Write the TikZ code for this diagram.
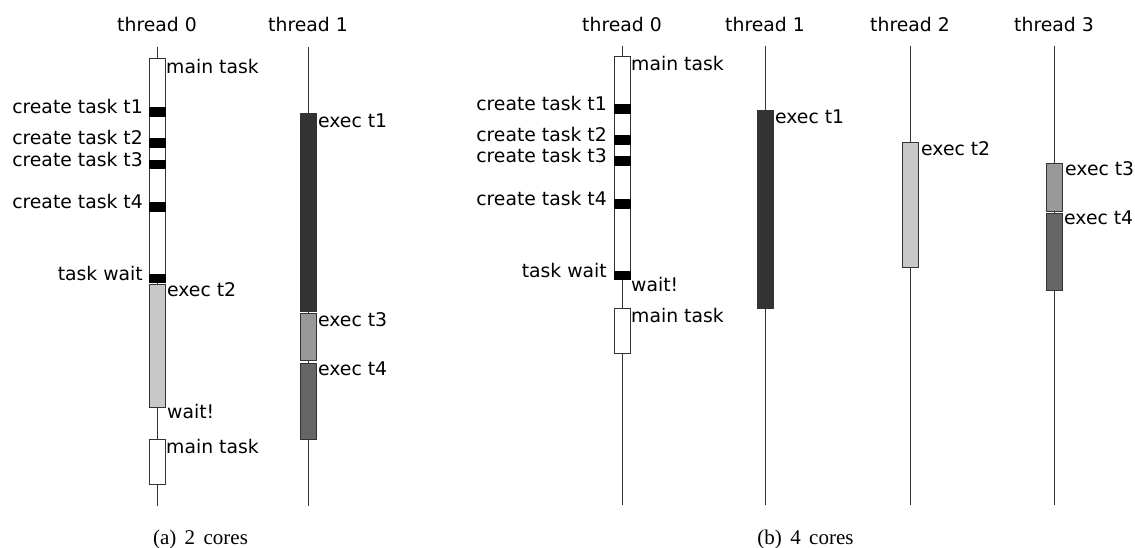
\documentclass[tikz,border=0pt]{standalone}
\usepackage{fontspec}
\newfontfamily\dvfont{DejaVu Sans}
\newfontfamily\tmfont{Liberation Serif}
\definecolor{cone}{HTML}{333333}
\definecolor{ctwo}{HTML}{C8C8C8}
\definecolor{cthree}{HTML}{999999}
\definecolor{cfour}{HTML}{666666}
\definecolor{edge}{HTML}{333333}
\begin{document}
\begin{tikzpicture}[x=1pt,y=-1pt,
  tline/.style={draw=black!80,line width=1pt},
  tbox/.style={draw=edge,line width=1pt},
  bar/.style={fill=black,draw=black,line width=0.5pt},
  lbl/.style={font=\dvfont\fontsize{18.8}{22}\selectfont,inner sep=0pt},
  rl/.style={lbl,anchor=base west},
  ll/.style={lbl,anchor=mid east},
  hd/.style={lbl,anchor=base},
  captext/.style={font=\tmfont\fontsize{21}{24}\selectfont,inner sep=0pt,anchor=base}]
\useasboundingbox[fill=white] (0,0) rectangle (1135,548);
% ---------- panel (a) ----------
\coordinate (a0t) at (157,47); \coordinate (a0b) at (157,506);
\coordinate (a1t) at (308,47); \coordinate (a1b) at (308,506);
\draw[tline] (a0t) -- (a0b);
\draw[tline] (a1t) -- (a1b);
\node[hd] (ha0) at (157,32) {thread 0};
\node[hd] (ha1) at (308,32) {thread 1};
% thread 0
\draw[tbox,fill=white] (149,59) rectangle (165,282);
\draw[bar] (149,107) rectangle (165,116);
\draw[bar] (149,138) rectangle (165,147);
\draw[bar] (149,160) rectangle (165,168);
\draw[bar] (149,202) rectangle (165,211);
\draw[bar] (149,274) rectangle (165,282);
\draw[tbox,fill=ctwo] (149,284) rectangle (165,407);
\draw[tbox,fill=white] (149,439) rectangle (165,484);
\node[rl] (am1) at (166,73.5) {main task};
\node[ll] (ac1) at (143,111.5) {create task t1};
\node[ll] (ac2) at (143,142.5) {create task t2};
\node[ll] (ac3) at (143,164) {create task t3};
\node[ll] (ac4) at (143,206.5) {create task t4};
\node[ll] (aw) at (143,278) {task wait};
\node[rl] (ae2) at (167,296) {exec t2};
\node[rl] (awt) at (167,418) {wait!};
\node[rl] (am2) at (166,453) {main task};
% thread 1
\draw[tbox,fill=cone] (300,114) rectangle (316,311);
\draw[tbox,fill=cthree] (300,313) rectangle (316,360);
\draw[tbox,fill=cfour] (300,363) rectangle (316,439);
\node[rl] (ae1) at (318,128) {exec t1};
\node[rl] (ae3) at (318,326) {exec t3};
\node[rl] (ae4) at (318,375) {exec t4};
\node[captext] (capa) at (200.5,544) {(a)\hspace{0.4em}2\hspace{0.4em}cores};
% ---------- panel (b) ----------
\coordinate (b0t) at (622,46); \coordinate (b0b) at (622,505);
\coordinate (b1t) at (765,46); \coordinate (b1b) at (765,505);
\coordinate (b2t) at (910,46); \coordinate (b2b) at (910,505);
\coordinate (b3t) at (1054,46); \coordinate (b3b) at (1054,505);
\draw[tline] (b0t) -- (b0b);
\draw[tline] (b1t) -- (b1b);
\draw[tline] (b2t) -- (b2b);
\draw[tline] (b3t) -- (b3b);
\node[hd] (hb0) at (622,32) {thread 0};
\node[hd] (hb1) at (765,32) {thread 1};
\node[hd] (hb2) at (910,32) {thread 2};
\node[hd] (hb3) at (1054,32) {thread 3};
% thread 0
\draw[tbox,fill=white] (614,57) rectangle (630,279);
\draw[bar] (614,104) rectangle (630,113);
\draw[bar] (614,135) rectangle (630,144);
\draw[bar] (614,156) rectangle (630,165);
\draw[bar] (614,199) rectangle (630,208);
\draw[bar] (614,271) rectangle (630,279);
\draw[tbox,fill=white] (614,308) rectangle (630,353);
\node[rl] (bm1) at (631,71) {main task};
\node[ll] (bc1) at (607,108.5) {create task t1};
\node[ll] (bc2) at (607,139.5) {create task t2};
\node[ll] (bc3) at (607,160.5) {create task t3};
\node[ll] (bc4) at (607,203.5) {create task t4};
\node[ll] (bw) at (607,275) {task wait};
\node[rl] (bwt) at (631,291) {wait!};
\node[rl] (bm2) at (631,322) {main task};
% thread 1
\draw[tbox,fill=cone] (757,111) rectangle (773,308);
\node[rl] (be1) at (775,124) {exec t1};
% thread 2
\draw[tbox,fill=ctwo] (902,143) rectangle (918,267);
\node[rl] (be2) at (921,156) {exec t2};
% thread 3
\draw[tbox,fill=cthree] (1046,164) rectangle (1062,212);
\draw[tbox,fill=cfour] (1046,214) rectangle (1062,290);
\node[rl] (be3) at (1065,176) {exec t3};
\node[rl] (be4) at (1064,225) {exec t4};
\node[captext] (capb) at (805.5,544) {(b)\hspace{0.4em}4\hspace{0.4em}cores};
\end{tikzpicture}
\end{document}
